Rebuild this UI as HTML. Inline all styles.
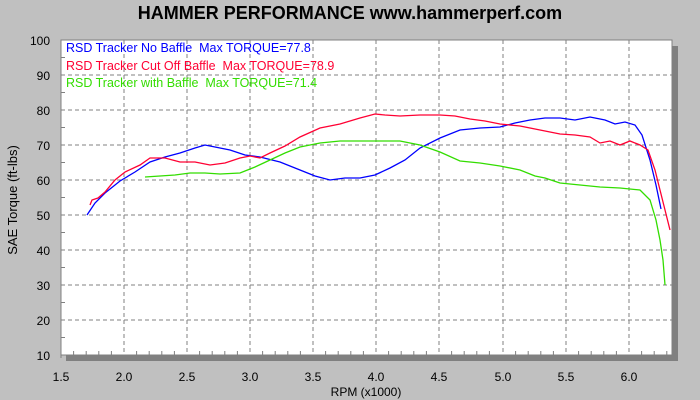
<!DOCTYPE html>
<html><head><style>body{margin:0;background:#c0c0c0}svg{display:block}</style></head><body>
<svg width="700" height="400" xmlns="http://www.w3.org/2000/svg" font-family="Liberation Sans, sans-serif">
<rect width="700" height="400" fill="#c0c0c0"/>
<text x="350" y="19" text-anchor="middle" font-size="18" font-weight="bold">HAMMER PERFORMANCE www.hammerperf.com</text>
<rect x="66" y="46" width="612" height="315" fill="#808080"/>
<rect x="61" y="40" width="611" height="315" fill="#fff" stroke="#808080" stroke-width="1"/>
<g stroke="#808080" stroke-dasharray="4,3" stroke-width="1">
<line x1="124" y1="40" x2="124" y2="355"/><line x1="187" y1="40" x2="187" y2="355"/><line x1="250" y1="40" x2="250" y2="355"/><line x1="313" y1="40" x2="313" y2="355"/><line x1="376" y1="40" x2="376" y2="355"/><line x1="439" y1="40" x2="439" y2="355"/><line x1="503" y1="40" x2="503" y2="355"/><line x1="566" y1="40" x2="566" y2="355"/><line x1="629" y1="40" x2="629" y2="355"/>
<line x1="61" y1="75" x2="672" y2="75"/><line x1="61" y1="110" x2="672" y2="110"/><line x1="61" y1="145" x2="672" y2="145"/><line x1="61" y1="180" x2="672" y2="180"/><line x1="61" y1="215" x2="672" y2="215"/><line x1="61" y1="250" x2="672" y2="250"/><line x1="61" y1="285" x2="672" y2="285"/><line x1="61" y1="320" x2="672" y2="320"/>
</g>
<g stroke="#808080" stroke-width="1">
<path d="M73.6,351V355M86.2,351V355M98.8,351V355M111.4,351V355M136.6,351V355M149.2,351V355M161.8,351V355M174.4,351V355M199.6,351V355M212.2,351V355M224.8,351V355M237.4,351V355M262.6,351V355M275.2,351V355M287.8,351V355M300.4,351V355M325.6,351V355M338.2,351V355M350.8,351V355M363.4,351V355M388.6,351V355M401.2,351V355M413.8,351V355M426.4,351V355M451.6,351V355M464.2,351V355M476.8,351V355M489.4,351V355M515.6,351V355M528.2,351V355M540.8,351V355M553.4,351V355M578.6,351V355M591.2,351V355M603.8,351V355M616.4,351V355M641.6,351V355M654.2,351V355M666.8,351V355"/>
<path d="M61,57.5H65M61,92.5H65M61,127.5H65M61,162.5H65M61,197.5H65M61,232.5H65M61,267.5H65M61,302.5H65M61,337.5H65"/>
</g>
<line x1="61" y1="40" x2="61" y2="358" stroke="#808080"/>
<g font-size="12" text-anchor="end">
<text x="50" y="45">100</text><text x="50" y="80">90</text><text x="50" y="115">80</text><text x="50" y="150">70</text><text x="50" y="185">60</text><text x="50" y="220">50</text><text x="50" y="255">40</text><text x="50" y="290">30</text><text x="50" y="325">20</text><text x="50" y="360">10</text>
</g>
<g font-size="12" text-anchor="middle">
<text x="61" y="381">1.5</text><text x="124" y="381">2.0</text><text x="187" y="381">2.5</text><text x="250" y="381">3.0</text><text x="313" y="381">3.5</text><text x="376" y="381">4.0</text><text x="439" y="381">4.5</text><text x="503" y="381">5.0</text><text x="566" y="381">5.5</text><text x="629" y="381">6.0</text>
<text x="366" y="396">RPM (x1000)</text>
</g>
<text transform="translate(17,200) rotate(-90)" font-size="13" text-anchor="middle">SAE Torque (ft-lbs)</text>
<g font-size="12.5">
<text x="66" y="52" fill="#0000ff">RSD Tracker No Baffle&#160; Max TORQUE=77.8</text>
<text x="66" y="70" fill="#ff0033">RSD Tracker Cut Off Baffle&#160; Max TORQUE=78.9</text>
<text x="66" y="87" fill="#33dd00">RSD Tracker with Baffle&#160; Max TORQUE=71.4</text>
</g>
<g fill="none" stroke-width="1.3">
<polyline stroke="#0000ff" points="87,215 95,203 105,193 120,181 135,172 150,162 165,157 180,153 195,148 205,145 215,147 230,150 245,155 260,157 280,162 300,170 315,176 330,180 345,178 360,178 375,175 390,168 405,160 420,148 440,138 460,130 480,128 500,127 515,123 530,120 545,118 560,118 575,120 590,117 605,120 615,124 625,122 635,125 642,135 650,160 656,185 661,209"/>
<polyline stroke="#ff0033" points="90,205 92,200 98,198 105,192 115,180 125,172 140,165 150,158 165,158 180,162 195,162 210,165 225,163 240,158 250,156 260,158 270,153 285,146 300,137 320,128 340,124 360,118 375,114 385,115 400,116 420,115 440,115 455,116 470,119 485,121 500,124 520,126 540,130 560,134 575,135 590,137 600,143 610,141 620,145 630,141 640,145 648,150 655,170 660,190 665,210 670,230"/>
<polyline stroke="#33dd00" points="145,177 160,176 175,175 190,173 205,173 220,174 240,173 255,167 270,160 285,153 300,147 320,143 340,141 360,141 380,141 400,141 420,145 440,152 460,161 480,163 500,166 520,170 535,176 545,178 560,183 580,185 600,187 620,188 640,190 650,200 656,220 660,240 663,260 665,285"/>
</g>
</svg>
</body></html>
